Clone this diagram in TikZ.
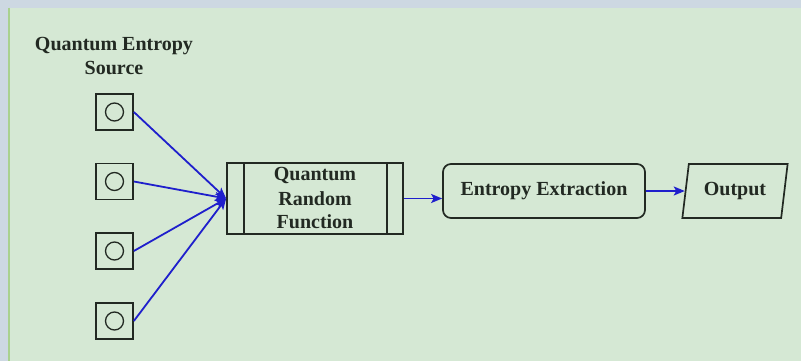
\documentclass[tikz,border=0pt]{standalone}
\usepackage{fontspec}
\setmainfont{Liberation Serif}
\usetikzlibrary{arrows.meta,shapes.geometric}
\definecolor{outerbg}{HTML}{CDD8E2}
\definecolor{panel}{HTML}{D5E8D4}
\definecolor{panelline}{HTML}{A9D18E}
\definecolor{ink}{HTML}{222922}
\definecolor{arrowblue}{HTML}{1F1FCC}
\tikzset{
  box/.style={draw=ink, line width=1.7pt, fill=panel, text=ink, inner sep=0pt},
  srcbox/.style={box, minimum width=37pt, minimum height=36pt},
  lbl/.style={text=ink, font=\fontsize{20}{24}\selectfont\bfseries, align=center},
  conn/.style={draw=arrowblue, line width=1.8pt, -{Stealth[length=11pt,width=9pt,inset=2.5pt]}},
}
\begin{document}
\begin{tikzpicture}[x=1pt,y=-1pt]
\useasboundingbox (0,0) rectangle (801,361);
\fill[outerbg] (0,0) rectangle (801,361);
\fill[panel] (8,8) rectangle (801,361);
\draw[panelline, line width=1.5pt] (8.75,8) -- (8.75,361);
% title
\node[lbl] (title) at (114,56) {Quantum Entropy\\Source};
% sources
\foreach \i/\y in {1/112,2/181.5,3/251,4/321}{
  \node[srcbox] (s\i) at (114.5,\y) {};
  \draw[ink, line width=1.3pt] (s\i.center) circle (9);
}
% QRF
\node[box, minimum width=176pt, minimum height=71pt, lbl] (qrf) at (315,198.5) {Quantum\\Random\\Function};
\draw[ink, line width=1.7pt] ([xshift=18]qrf.north west) -- ([xshift=18]qrf.south west);
\draw[ink, line width=1.7pt] ([xshift=-17]qrf.north east) -- ([xshift=-17]qrf.south east);
% Entropy extraction
\node[box, rounded corners=8pt, minimum width=202pt, minimum height=54pt, lbl] (ee) at (544,191) {Entropy Extraction};
% Output
\node[box, trapezium, trapezium left angle=76, trapezium right angle=104, trapezium stretches=true, minimum width=106pt, minimum height=54pt, lbl] (out) at (735,191) {Output};
% connectors
\foreach \i in {1,2,3,4}{ \draw[conn] (s\i.east) -- (qrf.west); }
\draw[conn] (qrf.east) -- (qrf.east -| ee.west);
\draw[conn] (ee.east) -- (out.west);
\end{tikzpicture}
\end{document}
